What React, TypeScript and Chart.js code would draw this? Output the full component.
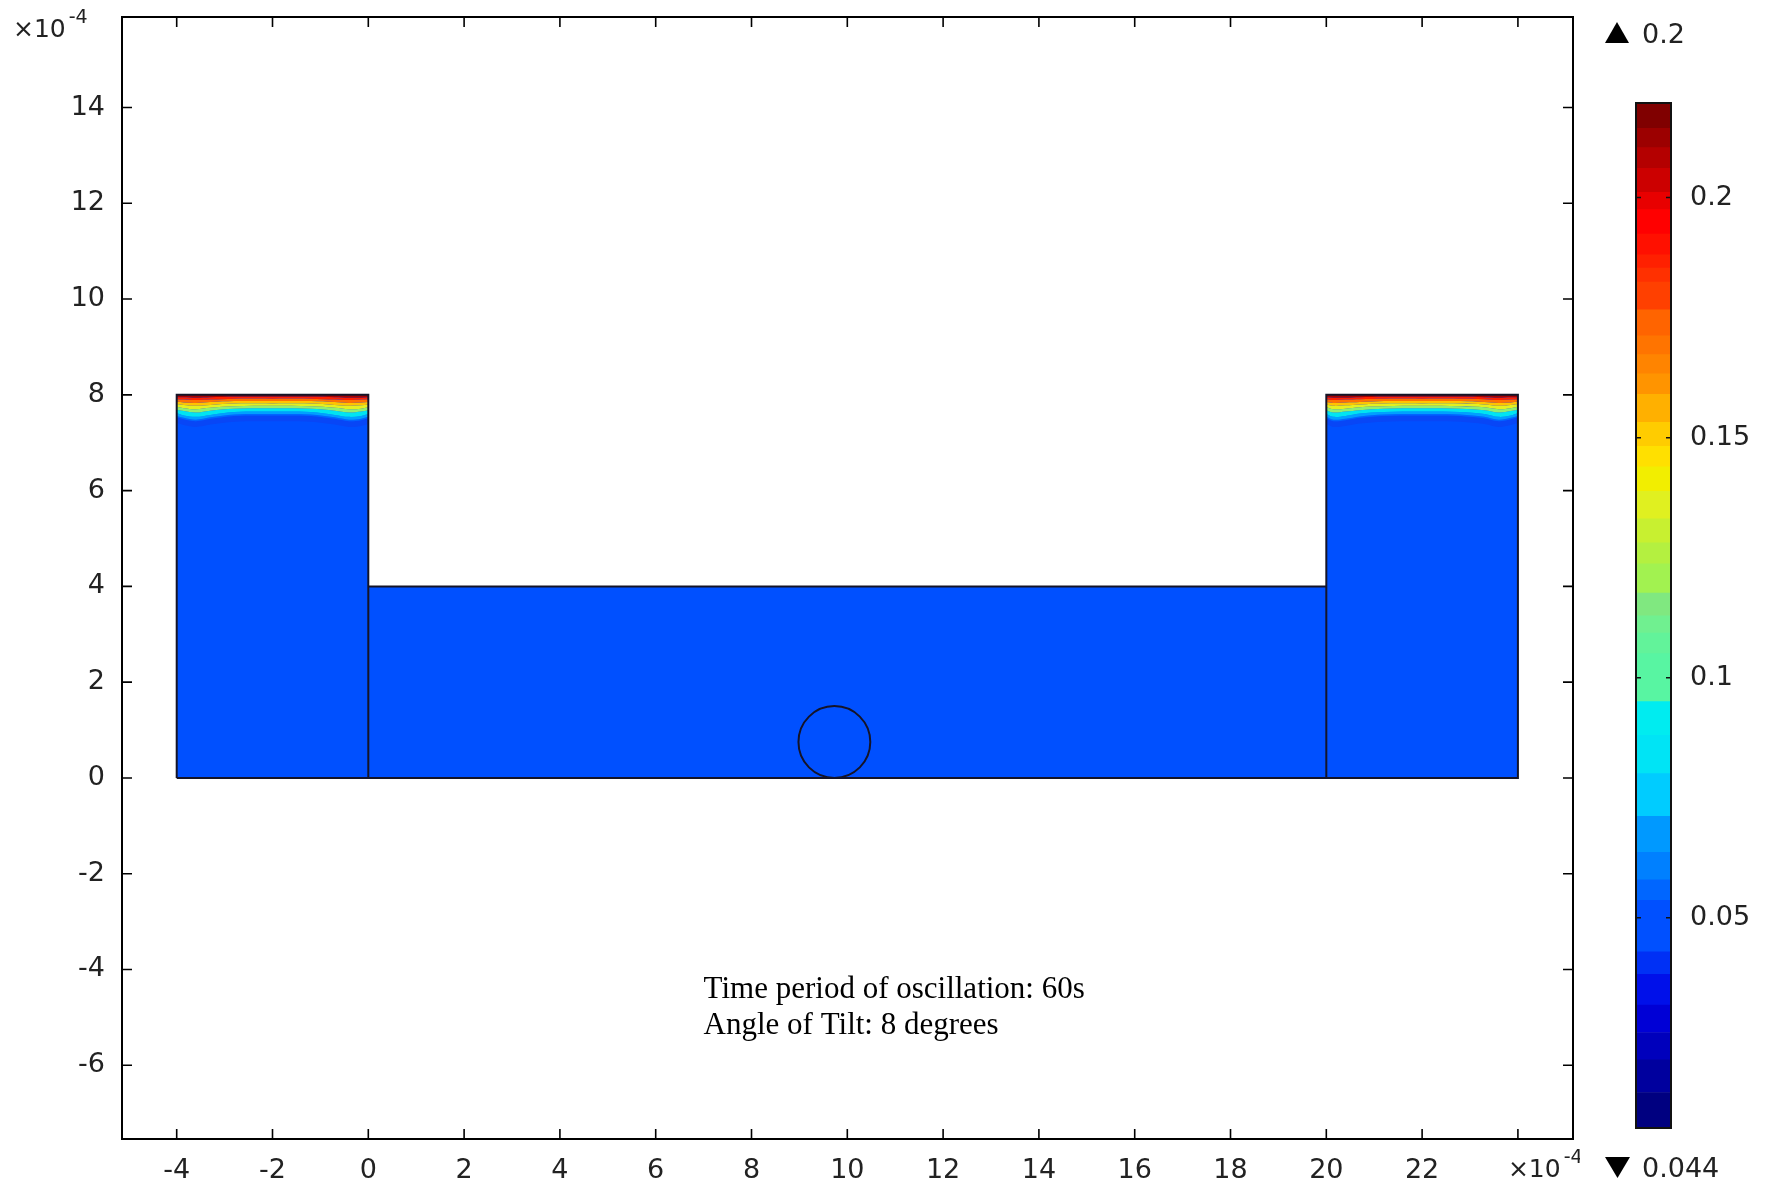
import React, { useEffect, useRef } from 'react';
import { Chart, registerables } from 'chart.js';

Chart.register(...registerables);

// ---- axes (units of 1e-4) ----
const X_MIN = -5.142;
const X_MAX = 25.15;
const Y_MIN = -7.54;
const Y_MAX = 15.89;
const X_TICKS = [-4, -2, 0, 2, 4, 6, 8, 10, 12, 14, 16, 18, 20, 22, 24];
const Y_TICKS = [-6, -4, -2, 0, 2, 4, 6, 8, 10, 12, 14];
const X_LABEL_HIDDEN = 24;
const AXIS_BASE = '\u00d710';
const AXIS_EXPONENT = '-4';

// ---- geometry ----
const DOMAIN_X = [-4, 0, 0, 20, 20, 24];
const DOMAIN_Y = [8, 8, 4, 4, 8, 8];
const FLUID_COLOR = '#0050FF';

const OUTLINE_X = [-4, -4, 0, 0, 20, 20, 24, 24, -4, 0, 0, 0, 20, 20, 20];
const OUTLINE_Y: (number | null)[] = [0, 8, 8, 4, 4, 8, 8, 0, 0, null, 0, 4, null, 0, 4];

const CIRCLE_X = 9.73;
const CIRCLE_Y = 0.75;
const CIRCLE_R = 0.75;

// ---- concentration bands at top of wells ----
const WELL_TOP = 8;
const LEFT_X = [-4, -3.85, -3.6, -3.3, -2.8, -2, -1.2, -0.7, -0.4, -0.15, 0];
const RIGHT_X = [20, 20.15, 20.4, 20.7, 21.2, 22, 22.8, 23.3, 23.6, 23.85, 24];
const LEFT_LEVELS = [
  [7.95, 7.95, 7.94, 7.95, 7.96, 7.96, 7.96, 7.95, 7.94, 7.94, 7.95],
  [7.91, 7.90, 7.89, 7.90, 7.92, 7.92, 7.92, 7.90, 7.89, 7.90, 7.91],
  [7.86, 7.84, 7.83, 7.85, 7.87, 7.87, 7.87, 7.85, 7.83, 7.84, 7.85],
  [7.81, 7.79, 7.77, 7.79, 7.82, 7.82, 7.82, 7.79, 7.77, 7.78, 7.80],
  [7.75, 7.72, 7.70, 7.73, 7.76, 7.77, 7.76, 7.73, 7.70, 7.71, 7.74],
  [7.69, 7.66, 7.63, 7.67, 7.71, 7.72, 7.71, 7.67, 7.63, 7.65, 7.68],
  [7.62, 7.57, 7.54, 7.58, 7.64, 7.65, 7.64, 7.58, 7.54, 7.56, 7.60],
  [7.56, 7.52, 7.48, 7.53, 7.59, 7.60, 7.59, 7.53, 7.48, 7.50, 7.54],
  [7.53, 7.49, 7.45, 7.50, 7.56, 7.57, 7.56, 7.50, 7.45, 7.47, 7.51],
  [7.41, 7.37, 7.33, 7.38, 7.44, 7.45, 7.44, 7.38, 7.33, 7.35, 7.39],
];
const RIGHT_LEVELS = [
  [7.95, 7.94, 7.94, 7.95, 7.96, 7.96, 7.96, 7.95, 7.94, 7.95, 7.95],
  [7.91, 7.89, 7.90, 7.91, 7.92, 7.92, 7.92, 7.91, 7.89, 7.90, 7.91],
  [7.85, 7.83, 7.84, 7.85, 7.87, 7.87, 7.87, 7.85, 7.83, 7.84, 7.86],
  [7.80, 7.77, 7.78, 7.80, 7.82, 7.82, 7.82, 7.80, 7.77, 7.79, 7.81],
  [7.74, 7.70, 7.71, 7.74, 7.76, 7.77, 7.76, 7.74, 7.70, 7.72, 7.75],
  [7.68, 7.63, 7.65, 7.68, 7.71, 7.72, 7.71, 7.68, 7.63, 7.66, 7.69],
  [7.60, 7.54, 7.56, 7.61, 7.64, 7.65, 7.64, 7.60, 7.54, 7.57, 7.62],
  [7.54, 7.48, 7.50, 7.55, 7.59, 7.60, 7.59, 7.54, 7.48, 7.52, 7.56],
  [7.51, 7.45, 7.47, 7.52, 7.56, 7.57, 7.56, 7.51, 7.45, 7.49, 7.53],
  [7.39, 7.33, 7.35, 7.40, 7.44, 7.45, 7.44, 7.39, 7.33, 7.37, 7.41],
];
const WELL_BAND_COLORS = ['#A80000', '#FF2000', '#FF7000', '#FFC400', '#E4F020', '#90EE70', '#00E4F2', '#00A0FF', '#0066FF', '#0846F6'];

// ---- colour bar ----
const CB_MIN = 0.0062;
const CB_MAX = 0.2197;
const CB_TICKS = [0.05, 0.1, 0.15, 0.2];
const CB_EDGES = [0.0062, 0.0136, 0.0204, 0.0261, 0.0318, 0.0382, 0.0429, 0.0536, 0.0579, 0.0636, 0.0711, 0.080, 0.088, 0.095, 0.105, 0.1093, 0.1129, 0.1176, 0.1237, 0.1281, 0.1331, 0.1388, 0.1439, 0.1482, 0.1532, 0.1590, 0.1633, 0.1673, 0.1712, 0.1766, 0.1824, 0.1853, 0.1881, 0.1924, 0.1975, 0.2011, 0.2061, 0.2104, 0.2144, 0.2197];
const CB_COLORS = ['#000080', '#00009E', '#0000BC', '#0000D6', '#0010EA', '#0030F5', '#0050FF', '#0066FF', '#0080FF', '#0099FF', '#00CCFF', '#00E4F5', '#00ECF0', '#58F5A2', '#62F39A', '#70F090', '#80E880', '#A2F250', '#B4F040', '#C8F030', '#E0F020', '#F2EE00', '#FFE000', '#FFCC00', '#FFB000', '#FF9400', '#FF8400', '#FF7400', '#FF6400', '#FF4000', '#FF3000', '#FF2000', '#FF1000', '#FF0000', '#E80000', '#CC0000', '#B40000', '#9C0000', '#800000'];
const CB_MAX_LABEL = '0.2';
const CB_MIN_LABEL = '0.044';

// ---- annotation ----
const NOTE_LINES = ['Time period of oscillation: 60s', 'Angle of Tilt: 8 degrees'];
const NOTE_X = 7.0;
const NOTE_Y = -4.59;

const TICK_FONT = { family: 'DejaVu Sans', size: 27 };
const TEXT_COLOR = '#222222';

function buildMainDatasets() {
  const ds: any[] = [];
  ds.push({
    label: 'fluid',
    data: DOMAIN_X.map((x, i) => ({ x, y: DOMAIN_Y[i] })),
    fill: { value: 0 },
    backgroundColor: FLUID_COLOR,
    borderWidth: 0,
    pointRadius: 0,
    tension: 0,
    order: 100,
  });
  const addWell = (xs: number[], levels: number[][]) => {
    ds.push({
      data: xs.map((x) => ({ x, y: WELL_TOP })),
      fill: false,
      borderWidth: 0,
      pointRadius: 0,
      order: 50,
    });
    levels.forEach((lv, k) => {
      ds.push({
        data: xs.map((x, i) => ({ x, y: lv[i] })),
        fill: '-1',
        backgroundColor: WELL_BAND_COLORS[k],
        borderWidth: 0,
        pointRadius: 0,
        tension: 0.35,
        order: 50,
      });
    });
  };
  addWell(LEFT_X, LEFT_LEVELS);
  addWell(RIGHT_X, RIGHT_LEVELS);
  ds.push({
    label: 'outline',
    data: OUTLINE_X.map((x, i) => ({ x, y: OUTLINE_Y[i] })),
    fill: false,
    borderColor: '#141428',
    borderWidth: 2,
    pointRadius: 0,
    tension: 0,
    spanGaps: false,
    order: 0,
  });
  return ds;
}

function drawExp(ctx: CanvasRenderingContext2D, x: number, baseline: number) {
  ctx.font = '25px "DejaVu Sans"';
  ctx.textAlign = 'left';
  ctx.textBaseline = 'alphabetic';
  ctx.fillText(AXIS_BASE, x, baseline);
  const w = ctx.measureText(AXIS_BASE).width;
  ctx.font = '19px "DejaVu Sans"';
  ctx.fillText(AXIS_EXPONENT, x + w + 3, baseline - 14);
}

const zeroPad = (s: any) => {
  s.paddingTop = 0;
  s.paddingBottom = 0;
  s.paddingLeft = 0;
  s.paddingRight = 0;
};

const mainDecor = {
  id: 'mainDecor',
  afterDatasetsDraw(chart: any) {
    const { ctx, scales } = chart;
    const sx = scales.x, sy = scales.y;
    const cx = sx.getPixelForValue(CIRCLE_X);
    const cy = sy.getPixelForValue(CIRCLE_Y);
    const r = sx.getPixelForValue(CIRCLE_X + CIRCLE_R) - cx;
    ctx.save();
    ctx.beginPath();
    ctx.arc(cx, cy, r, 0, Math.PI * 2);
    ctx.strokeStyle = '#141428';
    ctx.lineWidth = 2;
    ctx.stroke();
    ctx.restore();
  },
  afterDraw(chart: any) {
    const { ctx, chartArea: a, scales } = chart;
    const sx = scales.x, sy = scales.y;
    ctx.save();
    ctx.strokeStyle = '#000';
    ctx.lineWidth = 2;
    ctx.strokeRect(a.left, a.top, a.right - a.left, a.bottom - a.top);
    ctx.lineWidth = 1.6;
    ctx.beginPath();
    X_TICKS.forEach((v) => {
      const p = sx.getPixelForValue(v);
      ctx.moveTo(p, a.bottom); ctx.lineTo(p, a.bottom - 10);
      ctx.moveTo(p, a.top); ctx.lineTo(p, a.top + 10);
    });
    Y_TICKS.forEach((v) => {
      const p = sy.getPixelForValue(v);
      ctx.moveTo(a.left, p); ctx.lineTo(a.left + 10, p);
      ctx.moveTo(a.right, p); ctx.lineTo(a.right - 10, p);
    });
    ctx.stroke();
    ctx.fillStyle = TEXT_COLOR;
    drawExp(ctx, 13, 37);
    drawExp(ctx, sx.getPixelForValue(X_LABEL_HIDDEN) - 10, 1177);
    // annotation
    ctx.fillStyle = '#000';
    ctx.font = '31px "Liberation Serif"';
    ctx.textAlign = 'left';
    ctx.textBaseline = 'alphabetic';
    const nx = sx.getPixelForValue(NOTE_X);
    const ny = sy.getPixelForValue(NOTE_Y);
    NOTE_LINES.forEach((t, i) => ctx.fillText(t, nx, ny + i * 36));
    ctx.restore();
  },
};

const cbDecor = {
  id: 'cbDecor',
  afterDraw(chart: any) {
    const { ctx, chartArea: a, scales } = chart;
    const sy = scales.y;
    ctx.save();
    ctx.strokeStyle = '#111';
    ctx.lineWidth = 2;
    ctx.strokeRect(a.left, a.top, a.right - a.left, a.bottom - a.top);
    ctx.lineWidth = 1.5;
    ctx.beginPath();
    CB_TICKS.forEach((v) => {
      const p = sy.getPixelForValue(v);
      ctx.moveTo(a.left, p); ctx.lineTo(a.left + 5, p);
      ctx.moveTo(a.right, p); ctx.lineTo(a.right - 5, p);
    });
    ctx.stroke();
    ctx.fillStyle = '#000';
    ctx.beginPath();
    ctx.moveTo(25, 43); ctx.lineTo(49, 43); ctx.lineTo(37, 22); ctx.closePath();
    ctx.fill();
    ctx.beginPath();
    ctx.moveTo(25, 1157); ctx.lineTo(50, 1157); ctx.lineTo(37.5, 1178); ctx.closePath();
    ctx.fill();
    ctx.fillStyle = TEXT_COLOR;
    ctx.font = '27px "DejaVu Sans"';
    ctx.textAlign = 'left';
    ctx.textBaseline = 'alphabetic';
    ctx.fillText(CB_MAX_LABEL, 62, 43);
    ctx.fillText(CB_MIN_LABEL, 62, 1177);
    ctx.restore();
  },
};

export default function App() {
  const mainRef = useRef<HTMLCanvasElement>(null);
  const cbRef = useRef<HTMLCanvasElement>(null);

  useEffect(() => {
    const main = new Chart(mainRef.current as HTMLCanvasElement, {
      type: 'line',
      data: { datasets: buildMainDatasets() },
      options: {
        animation: false,
        responsive: false,
        maintainAspectRatio: false,
        events: [],
        layout: { padding: { top: 17, right: 7, bottom: 0, left: 0 } },
        plugins: { legend: { display: false }, tooltip: { enabled: false } },
        scales: {
          x: {
            type: 'linear',
            min: X_MIN,
            max: X_MAX,
            afterBuildTicks: (s: any) => { s.ticks = X_TICKS.map((v) => ({ value: v })); },
            afterFit: (s: any) => { s.height = 45; zeroPad(s); },
            ticks: {
              callback: (v: any) => (v === X_LABEL_HIDDEN ? '' : String(v)),
              font: TICK_FONT,
              color: TEXT_COLOR,
              padding: 16,
              maxRotation: 0,
              autoSkip: false,
            },
            grid: { display: false, drawTicks: false },
            border: { display: false },
          },
          y: {
            type: 'linear',
            min: Y_MIN,
            max: Y_MAX,
            afterBuildTicks: (s: any) => { s.ticks = Y_TICKS.map((v) => ({ value: v })); },
            afterFit: (s: any) => { s.width = 122; zeroPad(s); },
            ticks: {
              callback: (v: any) => String(v),
              font: TICK_FONT,
              color: TEXT_COLOR,
              padding: 17,
              autoSkip: false,
            },
            grid: { display: false, drawTicks: false },
            border: { display: false },
          },
        },
      } as any,
      plugins: [mainDecor],
    });

    const cbDatasets = CB_COLORS.map((c, i) => ({
      data: [[CB_EDGES[i], CB_EDGES[i + 1]]],
      backgroundColor: c,
      borderWidth: 0,
      grouped: false,
      barPercentage: 1,
      categoryPercentage: 1,
    }));
    const cb = new Chart(cbRef.current as HTMLCanvasElement, {
      type: 'bar',
      data: { labels: [''], datasets: cbDatasets as any },
      options: {
        animation: false,
        responsive: false,
        maintainAspectRatio: false,
        events: [],
        layout: { padding: { top: 103, right: 0, bottom: 56, left: 56 } },
        plugins: { legend: { display: false }, tooltip: { enabled: false } },
        scales: {
          x: { display: false },
          y: {
            position: 'right',
            min: CB_MIN,
            max: CB_MAX,
            afterBuildTicks: (s: any) => { s.ticks = CB_TICKS.map((v) => ({ value: v })); },
            afterFit: (s: any) => { s.width = 99; zeroPad(s); },
            ticks: {
              callback: (v: any) => String(v),
              font: TICK_FONT,
              color: TEXT_COLOR,
              padding: 19,
            },
            grid: { display: false, drawTicks: false },
            border: { display: false },
          },
        },
      } as any,
      plugins: [cbDecor],
    });

    return () => {
      main.destroy();
      cb.destroy();
    };
  }, []);

  return (
    <div style={{ position: 'absolute', left: 0, top: 0, width: 1770, height: 1184, background: '#ffffff' }}>
      <canvas ref={mainRef} width={1580} height={1184} style={{ position: 'absolute', left: 0, top: 0, width: 1580, height: 1184 }} />
      <canvas ref={cbRef} width={190} height={1184} style={{ position: 'absolute', left: 1580, top: 0, width: 190, height: 1184 }} />
    </div>
  );
}
